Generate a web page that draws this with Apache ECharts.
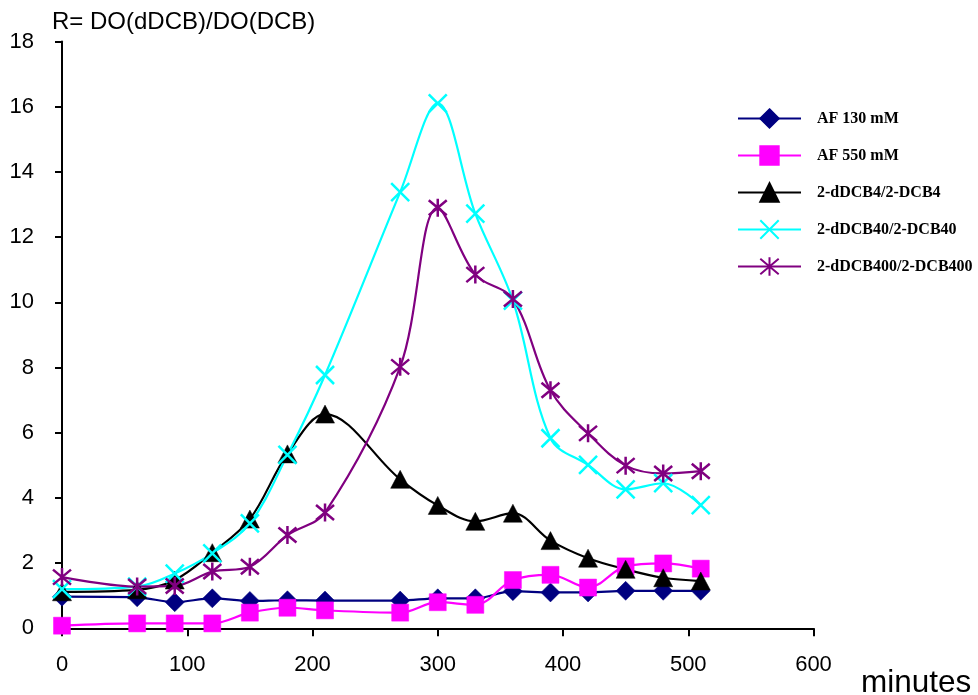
<!DOCTYPE html>
<html>
<head>
<meta charset="utf-8">
<script src="https://cdn.jsdelivr.net/npm/echarts@6/dist/echarts.min.js"></script>
<style>html,body{margin:0;padding:0;background:#fff;}#c{width:978px;height:695px;}</style>
</head>
<body>
<div id="c"></div>
<script>
const times = [0, 60, 90, 120, 150, 180, 210, 270, 300, 330, 360, 390, 420, 450, 480, 510];
const af130 = [0.97, 0.95, 0.8, 0.92, 0.84, 0.86, 0.85, 0.85, 0.92, 0.92, 1.14, 1.1, 1.1, 1.15, 1.15, 1.15];
const af550 = [0.08, 0.15, 0.15, 0.15, 0.48, 0.63, 0.55, 0.48, 0.8, 0.72, 1.48, 1.64, 1.25, 1.9, 1.99, 1.83];
const dcb4 = [1.12, 1.18, 1.48, 2.32, 3.35, 5.35, 6.57, 4.57, 3.77, 3.28, 3.53, 2.69, 2.15, 1.81, 1.55, 1.45];
const dcb40 = [1.2, 1.28, 1.68, 2.3, 3.22, 5.32, 7.77, 13.38, 16.1, 12.72, 10.05, 5.83, 5.01, 4.26, 4.45, 3.78];
const dcb400 = [1.57, 1.28, 1.3, 1.74, 1.89, 2.86, 3.55, 8.02, 12.9, 10.85, 10.1, 7.3, 5.98, 4.99, 4.75, 4.82];
const seriesNames = ['AF 130 mM', 'AF 550 mM', '2-dDCB4/2-DCB4', '2-dDCB40/2-DCB40', '2-dDCB400/2-DCB400'];
const xTicks = {min: 0, max: 600, interval: 100};
const yTicks = {min: 0, max: 18, interval: 2};
const yTitle = 'R= DO(dDCB)/DO(DCB)';
const xTitle = 'minutes';

const pair = v => times.map((t, i) => [t, v[i]]);
const colors = ['#000080', '#FF00FF', '#000000', '#00FFFF', '#800080'];
const symbols = ['diamond', 'rect', 'triangle', 'path://M0,0L10,10M10,0L0,10', 'path://M0,0L10,10M10,0L0,10M5,-1L5,11'];
const sizes = [[19, 19], [17, 17], [19, 18], 18, 18];
const values = [af130, af550, dcb4, dcb40, dcb400];

const series = values.map((v, i) => ({
  name: seriesNames[i],
  type: 'line',
  data: pair(v),
  smooth: 0.35,
  symbol: symbols[i],
  symbolSize: sizes[i],
  showAllSymbol: true,
  lineStyle: {color: colors[i], width: 2.2},
  itemStyle: {color: colors[i], borderColor: colors[i], borderWidth: i >= 3 ? 2.5 : 0.5, opacity: 1},
  emphasis: {disabled: true}
}));

const chart = echarts.init(document.getElementById('c'), null, {renderer: 'canvas'});
chart.setOption({
  animation: false,
  backgroundColor: '#ffffff',
  grid: {left: 62, right: 164.5, top: 41.5, bottom: 66.7},
  legend: {
    orient: 'vertical',
    left: 737,
    top: 107,
    padding: 0,
    itemWidth: 63,
    itemHeight: 23,
    itemGap: 14,
    textStyle: {fontFamily: 'Liberation Serif, Times New Roman, serif', fontWeight: 'bold', fontSize: 16, color: '#000', padding: [0, 0, 0, 11], lineHeight: 23},
    data: seriesNames
  },
  xAxis: {
    type: 'value', min: xTicks.min, max: xTicks.max, interval: xTicks.interval,
    axisLine: {show: true, onZero: false, lineStyle: {color: '#000', width: 2}},
    axisTick: {show: true, inside: false, length: 8, lineStyle: {color: '#000', width: 2}},
    axisLabel: {color: '#000', fontSize: 22, fontFamily: 'Liberation Sans, Arial, sans-serif', margin: 26},
    splitLine: {show: false}
  },
  yAxis: {
    type: 'value', min: yTicks.min, max: yTicks.max, interval: yTicks.interval,
    axisLine: {show: true, lineStyle: {color: '#000', width: 2}},
    axisTick: {show: true, inside: false, length: 7, lineStyle: {color: '#000', width: 2}},
    axisLabel: {color: '#000', fontSize: 22, fontFamily: 'Liberation Sans, Arial, sans-serif', margin: 28},
    splitLine: {show: false}
  },
  graphic: [
    {type: 'text', left: 52, top: 10, style: {text: yTitle, fill: '#000', font: '24px "Liberation Sans", Arial, sans-serif'}},
    {type: 'text', left: 861, top: 667, style: {text: xTitle, fill: '#000', font: '31.5px "Liberation Sans", Arial, sans-serif'}}
  ],
  series: series
});
</script>
</body>
</html>
